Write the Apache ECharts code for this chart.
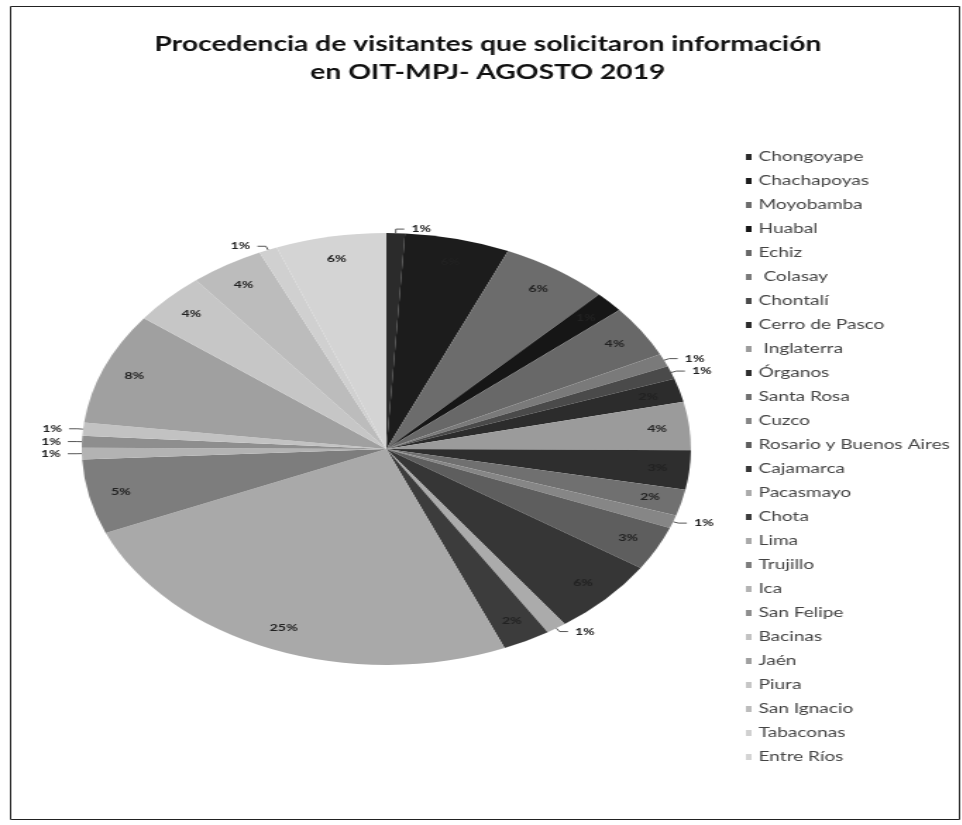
<!DOCTYPE html>
<html lang="es">
  <head>
    <meta charset="UTF-8" />
    <title>Procedencia de visitantes</title>
    <script src="https://cdn.jsdelivr.net/npm/echarts@6/dist/echarts.min.js"></script>
    <style>
      body { margin: 0; background: #fff; overflow: hidden; }
      /* the scanned chart is stretched sideways, so the whole canvas is stretched the same way */
      #chart { width: 682px; height: 825px; transform: scaleX(1.41); transform-origin: 0 0; }
    </style>
  </head>
  <body>
    <div id="chart"></div>
    <script>
      const categories = [
        "Chongoyape", "Chachapoyas", "Moyobamba", "Huabal", "Echiz", " Colasay",
        "Chontalí", "Cerro de Pasco", " Inglaterra", "Órganos", "Santa Rosa", "Cuzco",
        "Rosario y Buenos Aires", "Cajamarca", "Pacasmayo", "Chota", "Lima", "Trujillo",
        "Ica", "San Felipe", "Bacinas", "Jaén", "Piura", "San Ignacio", "Tabaconas", "Entre Ríos",
      ];
      // shares (%)
      const values = [
        1, 5.7, 5.9, 1.6, 4, 1, 1, 1.8, 3.7, 3, 2, 1, 3.4, 5.9, 1.1, 2.6, 25.6, 5.7,
        0.9, 0.9, 1, 8.6, 4, 4, 1, 6,
      ];
      const grays = [
        "#2b2b2b", "#1c1c1c", "#6c6c6c", "#161616", "#686868", "#7a7a7a", "#4a4a4a",
        "#2c2c2c", "#9b9b9b", "#2e2e2e", "#707070", "#868686", "#5e5e5e", "#363636",
        "#ababab", "#3c3c3c", "#a9a9a9", "#7d7d7d", "#b3b3b3", "#8e8e8e", "#c2c2c2",
        "#a0a0a0", "#c6c6c6", "#bcbcbc", "#d0d0d0", "#d4d4d4",
      ];

      const center = [274, 449];
      const R = 216;

      const pieData = categories.map((name, i) => ({ name, value: values[i] }));
      const labelData = categories.map((name, i) => {
        const small = values[i] < 1.5;
        return {
          name,
          value: values[i],
          label: { position: small ? "outside" : "inside" },
          labelLine: { show: small },
        };
      });

      const chart = echarts.init(document.getElementById("chart"));
      chart.setOption({
        animation: false,
        color: grays,
        title: {
          text: "Procedencia de visitantes que solicitaron información\nen OIT-MPJ- AGOSTO 2019",
          left: 341,
          top: 26,
          textAlign: "center",
          textStyle: {
            fontFamily: "Lato",
            fontWeight: "bold",
            fontSize: 20,
            lineHeight: 28,
            color: "#111",
          },
        },
        legend: {
          orient: "vertical",
          left: 524,
          top: 145,
          itemWidth: 4,
          itemHeight: 6,
          itemGap: 10,
          icon: "rect",
          data: categories,
          textStyle: { fontFamily: "Lato", fontSize: 13.5, lineHeight: 14, color: "#444" },
        },
        graphic: [
          {
            type: "rect",
            left: 5,
            top: 4,
            shape: { width: 673, height: 813 },
            style: { fill: "none", stroke: "#222", lineWidth: 1 },
            silent: true,
          },
        ],
        series: [
          {
            type: "pie",
            center,
            radius: R,
            startAngle: 90,
            clockwise: true,
            avoidLabelOverlap: false,
            label: { show: false },
            labelLine: { show: false },
            itemStyle: { borderWidth: 0 },
            data: pieData,
          },
          {
            // transparent ring that only carries the percent labels near the rim
            type: "pie",
            center,
            radius: [R * 0.76, R],
            startAngle: 90,
            clockwise: true,
            silent: true,
            avoidLabelOverlap: false,
            percentPrecision: 0,
            itemStyle: { color: "rgba(0,0,0,0)" },
            label: {
              show: true,
              formatter: "{d}%",
              fontFamily: "Lato",
              fontWeight: "bold",
              fontSize: 10,
              color: "#222",
            },
            labelLine: {
              length: 4,
              length2: 6,
              lineStyle: { color: "#555", width: 1 },
            },
            data: labelData,
          },
        ],
      });
    </script>
  </body>
</html>
